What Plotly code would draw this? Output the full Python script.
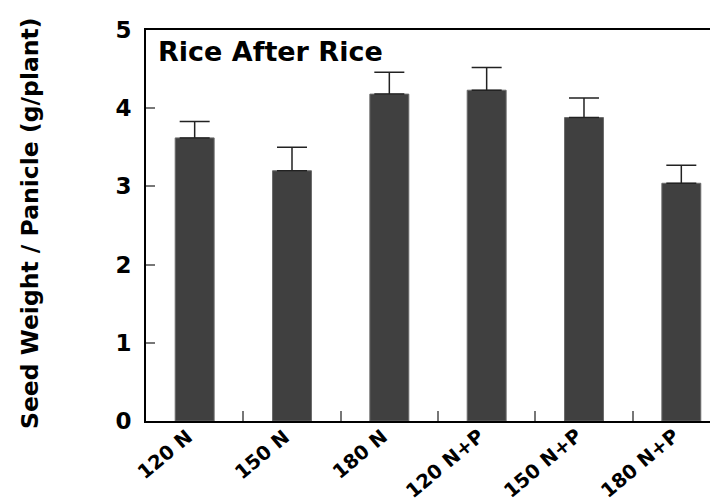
import plotly.graph_objects as go

categories = ["120 N", "150 N", "180 N", "120 N+P", "150 N+P", "180 N+P"]
seed_weight = [3.62, 3.20, 4.18, 4.23, 3.88, 3.04]
error_upper = [0.21, 0.30, 0.28, 0.29, 0.25, 0.23]
y_ticks = [0, 1, 2, 3, 4, 5]

FONT = "DejaVu Sans, Arial, sans-serif"

fig = go.Figure()
fig.add_trace(go.Bar(
    x=categories,
    y=seed_weight,
    width=0.4,
    marker=dict(color="#404040", line=dict(color="#6a6a6a", width=1)),
    error_y=dict(type="data", symmetric=False, array=error_upper,
                 arrayminus=[0] * len(error_upper),
                 color="#222222", thickness=1.5, width=15),
))

annotations = [
    dict(text="Rice After Rice", xref="paper", yref="paper",
         x=(148 - 138) / 580, y=(413 - 43) / 391, xanchor="left", yanchor="middle",
         showarrow=False, font=dict(family=FONT, size=27, color="black", weight="bold")),
    dict(text="Seed Weight / Panicle (g/plant)", xref="paper", yref="paper",
         x=(22 - 138) / 580, y=(413 - 215) / 391, xanchor="center", yanchor="middle",
         textangle=-90, showarrow=False,
         font=dict(family=FONT, size=23.5, color="black", weight="bold")),
]
# category tick labels, rotated, ending just right of each category centre
for cat in categories:
    annotations.append(dict(
        text=cat, xref="x", yref="paper", x=cat, y=(413 - 414) / 391,
        xanchor="right", yanchor="top", xshift=5, textangle=-40, showarrow=False,
        font=dict(family=FONT, size=19.5, color="black", weight="bold"),
    ))

fig.update_layout(
    width=718, height=504,
    margin=dict(l=138, r=0, t=22, b=91),
    paper_bgcolor="white", plot_bgcolor="white",
    showlegend=False,
    xaxis=dict(
        range=[-0.5, 5.459],
        showline=True, linecolor="black", linewidth=2, mirror=True,
        ticks="inside", tickson="boundaries", ticklen=10, tickcolor="#777777", tickwidth=1.5,
        showticklabels=False,
        showgrid=False, zeroline=False,
    ),
    yaxis=dict(
        range=[0, 5],
        tickvals=y_ticks,
        showline=True, linecolor="black", linewidth=2,
        ticks="inside", ticklen=9, tickcolor="#777777", tickwidth=1.5,
        ticklabelstandoff=8,
        tickfont=dict(family=FONT, size=23, color="black", weight="bold"),
        showgrid=False, zeroline=False,
    ),
    annotations=annotations,
)

fig.write_html("out.html")
